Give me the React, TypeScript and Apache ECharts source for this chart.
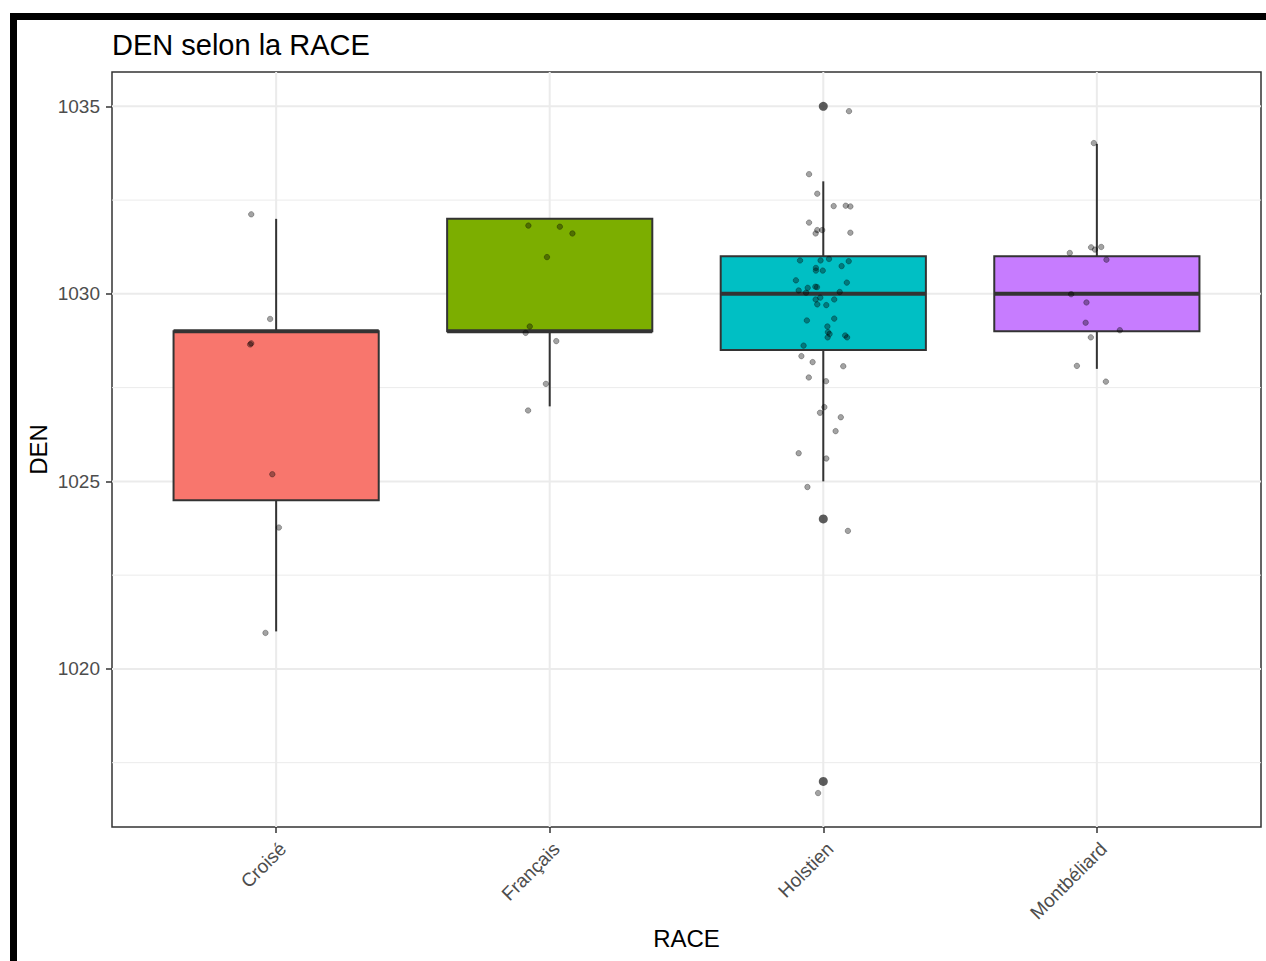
import React, { useEffect, useRef } from "react";
import * as echarts from "echarts";

// ---------- data ----------
const CATEGORIES = ["Croisé", "Français", "Holstien", "Montbéliard"];
const COLORS = ["#F8766D", "#7CAE00", "#00BFC4", "#C77CFF"];

const BOX_MIN = [1021, 1027, 1025, 1028];
const BOX_Q1 = [1024.5, 1029, 1028.5, 1029];
const BOX_MEDIAN = [1029, 1029, 1030, 1030];
const BOX_Q3 = [1029, 1032, 1031, 1031];
const BOX_MAX = [1032, 1032, 1033, 1034];

const OUTLIER_CAT = [3, 3, 3];
const OUTLIER_VAL = [1035, 1024, 1017];

// jittered observations: horizontal jitter offset (in category units) and value
const CROISE_DX = [-0.091, -0.022, -0.095, -0.091, -0.014, 0.01, -0.039];
const CROISE_Y = [1032.12, 1029.33, 1028.65, 1028.68, 1025.19, 1023.77, 1020.96];

const FRANCAIS_DX = [-0.078, 0.037, 0.083, -0.01, -0.073, -0.088, 0.024, -0.014, -0.079];
const FRANCAIS_Y = [1031.82, 1031.79, 1031.61, 1030.98, 1029.13, 1028.96, 1028.74, 1027.6, 1026.89];

const HOLSTIEN_DX = [
  0.094, -0.052, -0.022, 0.038, 0.082, 0.099, -0.052, -0.022, -0.004, -0.028,
  0.099, -0.085, -0.01, 0.021, 0.093, 0.067, -0.027, -0.027, -0.002, -0.1,
  0.086, -0.029, -0.023, -0.057, -0.09, -0.063, 0.06, -0.028, -0.011, 0.04,
  -0.022, 0.011, -0.06, 0.04, 0.015, 0.017, 0.023, 0.016, 0.08, 0.087,
  -0.072, -0.08, -0.039, 0.073, -0.053, 0.01, 0.004, -0.012, 0.064, 0.045,
  -0.09, 0.011, -0.058, 0.09, -0.019,
];
const HOLSTIEN_Y = [
  1034.87, 1033.19, 1032.67, 1032.34, 1032.35, 1032.33, 1031.9, 1031.7, 1031.7, 1031.61,
  1031.63, 1030.89, 1030.89, 1030.93, 1030.87, 1030.74, 1030.69, 1030.62, 1030.62, 1030.36,
  1030.3, 1030.19, 1030.18, 1030.16, 1030.09, 1030.03, 1030.05, 1029.85, 1029.9, 1029.85,
  1029.72, 1029.7, 1029.29, 1029.34, 1029.13, 1028.98, 1028.93, 1028.84, 1028.89, 1028.84,
  1028.62, 1028.34, 1028.18, 1028.07, 1027.77, 1027.67, 1026.98, 1026.83, 1026.71, 1026.34,
  1025.75, 1025.61, 1024.85, 1023.68, 1016.69,
];

const MONTBELIARD_DX = [-0.011, -0.099, -0.021, -0.007, 0.016, 0.035, -0.094, -0.038, -0.041, 0.084, -0.022, -0.073, 0.033];
const MONTBELIARD_Y = [1034.02, 1031.09, 1031.24, 1031.18, 1031.25, 1030.91, 1029.99, 1029.77, 1029.23, 1029.03, 1028.84, 1028.08, 1027.66];

const Y_TICKS = [1020, 1025, 1030, 1035];
const Y_MINOR = [1017.5, 1022.5, 1027.5, 1032.5];
const Y_MIN = 1015.785;
const Y_MAX = 1035.915;
const X_MIN = 0.4;
const X_MAX = 4.6;
const X_TICKS = [1, 2, 3, 4];

const FONT = "'Liberation Sans', Arial, sans-serif";

export default function App() {
  const ref = useRef<HTMLDivElement>(null);

  useEffect(() => {
    if (!ref.current) return;
    const chart = echarts.init(ref.current, null, { renderer: "svg" });

    const boxData = CATEGORIES.map((_, i) => [
      i + 1,
      BOX_MIN[i],
      BOX_Q1[i],
      BOX_MEDIAN[i],
      BOX_Q3[i],
      BOX_MAX[i],
    ]);

    const jitterSets = [
      [CROISE_DX, CROISE_Y],
      [FRANCAIS_DX, FRANCAIS_Y],
      [HOLSTIEN_DX, HOLSTIEN_Y],
      [MONTBELIARD_DX, MONTBELIARD_Y],
    ];
    const jitterData: number[][] = [];
    jitterSets.forEach(([dx, ys], i) => {
      ys.forEach((y, k) => jitterData.push([i + 1 + dx[k], y]));
    });

    const outlierData = OUTLIER_VAL.map((v, i) => [OUTLIER_CAT[i], v]);

    const gridData: number[][] = [];
    Y_TICKS.forEach((v) => gridData.push([X_MIN, v, 0]));
    Y_MINOR.forEach((v) => gridData.push([X_MIN, v, 1]));
    X_TICKS.forEach((v) => gridData.push([v, Y_MIN, 2]));

    const option: any = {
      animation: false,
      backgroundColor: "#ffffff",
      title: {
        text: "DEN selon la RACE",
        left: 112,
        top: 30,
        padding: 0,
        textStyle: { fontSize: 29, fontWeight: "normal", color: "#000000", fontFamily: FONT },
      },
      grid: {
        left: 112,
        top: 72,
        width: 1149,
        height: 755,
        show: true,
        borderColor: "#333333",
        borderWidth: 1.5,
        backgroundColor: "transparent",
      },
      xAxis: {
        type: "value",
        min: X_MIN,
        max: X_MAX,
        axisLine: { show: false },
        splitLine: { show: false },
        axisTick: {
          show: true,
          customValues: X_TICKS,
          length: 6,
          lineStyle: { color: "#333333", width: 1.5 },
        },
        axisLabel: {
          customValues: X_TICKS,
          formatter: (v: number) => CATEGORIES[Math.round(v) - 1] ?? "",
          rotate: 45,
          align: "right",
          verticalAlign: "top",
          margin: 12,
          fontSize: 19,
          color: "#4d4d4d",
          fontFamily: FONT,
        },
      },
      yAxis: {
        type: "value",
        min: Y_MIN,
        max: Y_MAX,
        axisLine: { show: false },
        splitLine: { show: false },
        axisTick: {
          show: true,
          customValues: Y_TICKS,
          length: 6,
          lineStyle: { color: "#333333", width: 1.5 },
        },
        axisLabel: {
          customValues: Y_TICKS,
          formatter: (v: number) => String(Math.round(v)),
          margin: 12,
          fontSize: 19,
          color: "#4d4d4d",
          fontFamily: FONT,
        },
      },
      graphic: [
        { type: "rect", shape: { x: 10, y: 13, width: 1256, height: 7 }, style: { fill: "#000000" } },
        { type: "rect", shape: { x: 10, y: 13, width: 7, height: 948 }, style: { fill: "#000000" } },
        {
          type: "text",
          x: 686.5,
          y: 938,
          style: {
            text: "RACE",
            fontSize: 24,
            fontFamily: FONT,
            fill: "#000000",
            align: "center",
            verticalAlign: "middle",
          },
        },
        {
          type: "text",
          x: 38.5,
          y: 449.5,
          rotation: Math.PI / 2,
          style: {
            text: "DEN",
            fontSize: 24,
            fontFamily: FONT,
            fill: "#000000",
            align: "center",
            verticalAlign: "middle",
          },
        },
      ],
      series: [
        {
          name: "grid",
          type: "custom",
          silent: true,
          z: 1,
          data: gridData,
          encode: { x: 0, y: 1 },
          renderItem: (params: any, api: any) => {
            const cs = params.coordSys;
            const kind = api.value(2);
            if (kind === 2) {
              const px = api.coord([api.value(0), Y_MIN])[0];
              return {
                type: "line",
                shape: { x1: px, y1: cs.y, x2: px, y2: cs.y + cs.height },
                style: { stroke: "#ebebeb", lineWidth: 2 },
              };
            }
            const py = api.coord([X_MIN, api.value(1)])[1];
            return {
              type: "line",
              shape: { x1: cs.x, y1: py, x2: cs.x + cs.width, y2: py },
              style: { stroke: "#ebebeb", lineWidth: kind === 0 ? 2 : 1 },
            };
          },
        },
        {
          name: "boxes",
          type: "custom",
          z: 2,
          data: boxData,
          encode: { x: 0, y: [1, 2, 3, 4, 5] },
          renderItem: (params: any, api: any) => {
            const x = api.value(0);
            const hw = 0.375;
            const cx = api.coord([x, api.value(3)])[0];
            const left = api.coord([x - hw, api.value(3)])[0];
            const right = api.coord([x + hw, api.value(3)])[0];
            const yMin = api.coord([x, api.value(1)])[1];
            const yQ1 = api.coord([x, api.value(2)])[1];
            const yMed = api.coord([x, api.value(3)])[1];
            const yQ3 = api.coord([x, api.value(4)])[1];
            const yMax = api.coord([x, api.value(5)])[1];
            const stroke = "#333333";
            return {
              type: "group",
              children: [
                {
                  type: "line",
                  shape: { x1: cx, y1: yQ3, x2: cx, y2: yMax },
                  style: { stroke, lineWidth: 2 },
                },
                {
                  type: "line",
                  shape: { x1: cx, y1: yQ1, x2: cx, y2: yMin },
                  style: { stroke, lineWidth: 2 },
                },
                {
                  type: "rect",
                  shape: { x: left, y: yQ3, width: right - left, height: yQ1 - yQ3 },
                  style: { fill: COLORS[params.dataIndex], stroke, lineWidth: 2 },
                },
                {
                  type: "line",
                  shape: { x1: left, y1: yMed, x2: right, y2: yMed },
                  style: { stroke, lineWidth: 4 },
                },
              ],
            };
          },
        },
        {
          name: "outliers",
          type: "scatter",
          z: 3,
          data: outlierData,
          symbol: "circle",
          symbolSize: 9,
          itemStyle: { color: "#333333" },
        },
        {
          name: "points",
          type: "scatter",
          z: 4,
          data: jitterData,
          symbol: "circle",
          symbolSize: 5.5,
          itemStyle: {
            color: "rgba(0,0,0,0.45)",
            borderColor: "rgba(0,0,0,0.35)",
            borderWidth: 1,
          },
        },
      ],
    };

    chart.setOption(option);
    return () => chart.dispose();
  }, []);

  return (
    <div
      ref={ref}
      style={{ position: "absolute", left: 0, top: 0, width: 1266, height: 961, background: "#fff" }}
    />
  );
}
